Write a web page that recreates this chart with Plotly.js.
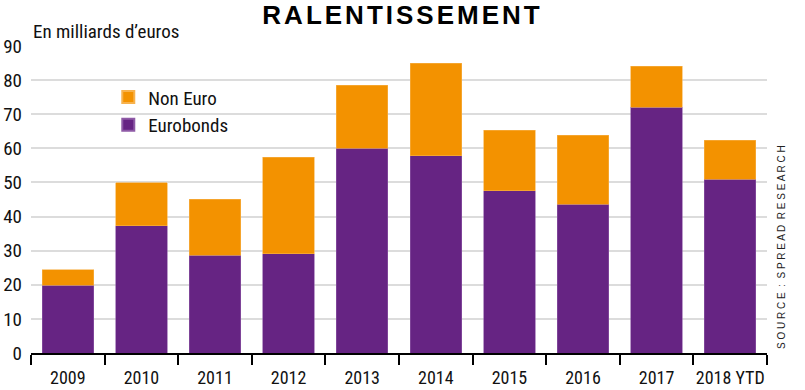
<!DOCTYPE html>
<html><head><meta charset="utf-8">
<script src="https://cdn.plot.ly/plotly-3.0.1.min.js"></script>
<style>body{margin:0;background:#fff}.gtitle{letter-spacing:3px}</style>
</head><body><div id="c" style="width:805px;height:390px"></div>
<script>
const years = ["2009","2010","2011","2012","2013","2014","2015","2016","2017","2018 YTD"];
const eurobonds = [19.8, 37.3, 28.7, 29.1, 60.0, 57.8, 47.5, 43.6, 72.1, 50.9];
const totals = [24.4, 49.9, 45.1, 57.4, 78.5, 85.0, 65.3, 63.8, 84.1, 62.4];
const nonEuro = totals.map((t,i)=> +(t - eurobonds[i]).toFixed(1));
const yTicks = [0,10,20,30,40,50,60,70,80,90];

const F = "'Roboto Condensed','Liberation Sans Narrow','DejaVu Sans Condensed',Roboto,sans-serif";
const traces = [
  {type:'bar', name:'Eurobonds', x:years, y:eurobonds, marker:{color:'#662483', line:{color:'#8e5aa6', width:0.6}}},
  {type:'bar', name:'Non Euro', x:years, y:nonEuro, marker:{color:'#F39200', line:{color:'#f7b24d', width:0.6}}}
];
const layout = {
  width:805, height:390, barmode:'stack', bargap:0.30,
  margin:{l:31, r:38, t:46, b:37},
  paper_bgcolor:'#fff', plot_bgcolor:'#fff',
  font:{family:F, color:'#111'},
  title:{text:'<b>RALENTISSEMENT</b>', x:0.5, xanchor:'center', y:0.984, yanchor:'top',
         font:{family:"'Liberation Sans',Arial,sans-serif", size:26, color:'#000'}},
  showlegend:true,
  legend:{x:0.105, y:0.895, xanchor:'left', yanchor:'top', traceorder:'reversed',
          font:{family:F, size:19, color:'#111'}, itemsizing:'constant', tracegroupgap:0, bgcolor:'rgba(0,0,0,0)'},
  xaxis:{type:'category', tickson:'boundaries', ticks:'outside', ticklen:10, tickwidth:1.5, tickcolor:'#000',
         showline:true, linecolor:'#000', linewidth:2, showgrid:false, tickangle:0, automargin:false, ticklabelstandoff:7,
         tickfont:{family:F, size:18, color:'#111'}},
  yaxis:{range:[0,90], tickvals:yTicks, ticktext:yTicks.map(String), showgrid:true, gridcolor:'#dcdcdc', gridwidth:1.5,
         zeroline:false, showline:false, ticks:'', tickfont:{family:F, size:19, color:'#111'}, ticklabelstandoff:8},
  annotations:[
    {text:'En milliards d’euros', xref:'paper', yref:'paper', x:-0.0, y:1.0, xanchor:'left', yanchor:'bottom', yshift:1,
     showarrow:false, font:{family:F, size:19, color:'#111'}},
    {text:'S O U R C E  :  S P R E A D  R E S E A R C H', xref:'paper', yref:'paper', x:1.0, xshift:14, y:0.0, yshift:2, yanchor:'bottom', xanchor:'center',
     textangle:-90, showarrow:false, font:{family:"'Liberation Sans',Arial,sans-serif", size:10, color:'#222'}}
  ]
};
Plotly.newPlot('c', traces, layout, {displayModeBar:false});
</script></body></html>
